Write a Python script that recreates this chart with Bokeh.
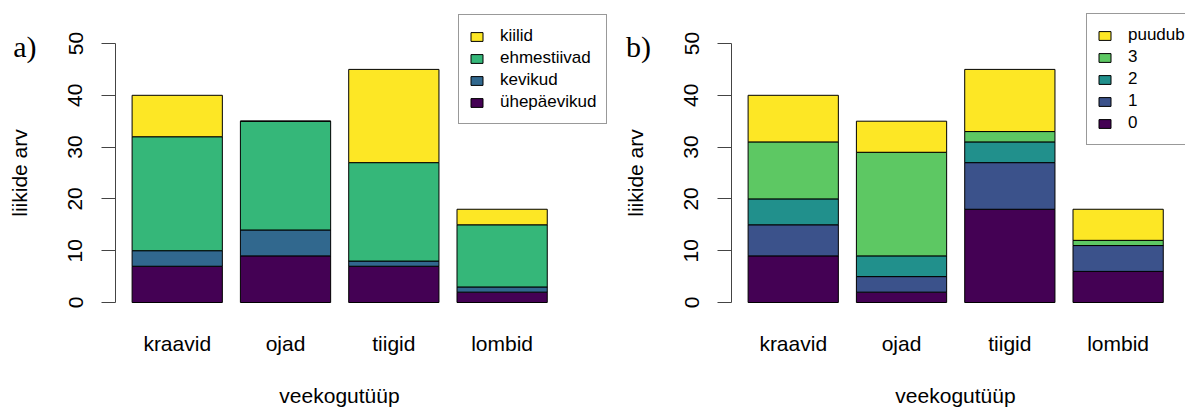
from bokeh.plotting import figure
from bokeh.models import Range1d, FixedTicker, Legend, LegendItem, Label, ColumnDataSource
from bokeh.layouts import row
from bokeh.embed import file_html
from bokeh.resources import INLINE

# water body types
categories = ["kraavid", "ojad", "tiigid", "lombid"]

# panel a: species count by insect group
a_names = ["ühepäevikud", "kevikud", "ehmestiivad", "kiilid"]
yhepaevikud = [7, 9, 7, 2]
kevikud = [3, 5, 1, 1]
ehmestiivad = [22, 21, 19, 12]
kiilid = [8, 0, 18, 3]

# panel b: species count by class
b_names = ["0", "1", "2", "3", "puudub"]
klass0 = [9, 2, 18, 6]
klass1 = [6, 3, 9, 5]
klass2 = [5, 4, 4, 0]
klass3 = [11, 20, 2, 1]
puudub = [9, 6, 12, 6]

y_ticks = [0, 10, 20, 30, 40, 50]

viridis4 = ["#440154", "#31688E", "#35B779", "#FDE725"]
viridis5 = ["#440154", "#3B528B", "#21908C", "#5DC863", "#FDE725"]

SANS = "Liberation Sans"

# layout scales (pixels per bar slot / per count unit)
SLOT_PX = 108.3
UNIT_PX = 5.18
AXIS_PX = 115          # y axis position inside each panel
ZERO_PX = 302          # vertical position of the zero line
PLOT_LEFT = -0.57      # plotting region, in slot / count units
PLOT_RIGHT = 3.57
PLOT_BOTTOM = -2.0
HEIGHT = 408


def make_panel(tag, tag_x, names, series, colors, width, legend_xy):
    xs = list(range(len(categories)))
    data = {"x": xs}
    keys = []
    for i, vals in enumerate(series):
        k = "s%d" % i
        data[k] = vals
        keys.append(k)
    src = ColumnDataSource(data)

    x0 = PLOT_LEFT - AXIS_PX / SLOT_PX
    x1 = PLOT_LEFT + (width - AXIS_PX) / SLOT_PX
    y0 = -(HEIGHT - ZERO_PX) / UNIT_PX
    y1 = y0 + HEIGHT / UNIT_PX

    p = figure(
        width=width, height=HEIGHT,
        x_range=Range1d(x0, x1), y_range=Range1d(y0, y1),
        output_backend="svg", toolbar_location=None,
        min_border_left=0, min_border_right=0,
        min_border_top=0, min_border_bottom=0,
        background_fill_color="white", border_fill_color="white",
    )
    p.outline_line_color = None
    p.grid.grid_line_color = None

    rs = p.vbar_stack(keys, x="x", width=1 / 1.2, source=src,
                      fill_color=colors, line_color="black", line_width=1)

    # y axis in base-graphics style: bounded, outward ticks, labels along the axis
    ya = p.yaxis[0]
    ya.fixed_location = PLOT_LEFT
    ya.ticker = FixedTicker(ticks=y_ticks)
    ya.bounds = (0, 50)
    ya.axis_line_color = "#444444"
    ya.major_tick_line_color = "#444444"
    ya.major_tick_out = 14
    ya.major_tick_in = 0
    ya.minor_tick_line_color = None
    ya.major_label_orientation = "parallel"
    ya.major_label_text_font = SANS
    ya.major_label_text_font_size = "21px"
    ya.major_label_text_color = "black"
    ya.major_label_standoff = 19
    ya.axis_label = "liikide arv"
    ya.axis_label_text_font = SANS
    ya.axis_label_text_font_size = "21px"
    ya.axis_label_text_font_style = "normal"
    ya.axis_label_text_color = "black"
    ya.axis_label_standoff = 35

    # category names under the bars, no axis line or ticks
    xa = p.xaxis[0]
    xa.fixed_location = PLOT_BOTTOM
    xa.ticker = FixedTicker(ticks=xs)
    xa.bounds = (PLOT_LEFT, PLOT_RIGHT)
    xa.major_label_overrides = {i: c for i, c in zip(xs, categories)}
    xa.axis_line_color = None
    xa.major_tick_line_color = None
    xa.minor_tick_line_color = None
    xa.major_tick_out = 0
    xa.major_tick_in = 0
    xa.major_label_text_font = SANS
    xa.major_label_text_font_size = "21px"
    xa.major_label_text_color = "black"
    xa.major_label_standoff = 19
    xa.axis_label = "veekogutüüp"
    xa.axis_label_text_font = SANS
    xa.axis_label_text_font_size = "21px"
    xa.axis_label_text_font_style = "normal"
    xa.axis_label_text_color = "black"
    xa.axis_label_standoff = 26

    items = [LegendItem(label=n, renderers=[r]) for n, r in zip(names, rs)][::-1]
    leg = Legend(items=items, location=legend_xy, margin=0, padding=10, spacing=0,
                 glyph_width=15, glyph_height=11, label_height=22, label_standoff=16,
                 label_text_font=SANS, label_text_font_size="17px",
                 label_text_color="black",
                 border_line_color="#333333", border_line_width=1,
                 background_fill_color="white", background_fill_alpha=1.0)
    p.add_layout(leg, "center")

    p.add_layout(Label(x=tag_x, y=HEIGHT - 45.7, x_units="screen", y_units="screen", text=tag,
                       text_font="Liberation Serif", text_font_size="30px",
                       text_color="black", text_baseline="alphabetic", text_align="left"))
    return p


pa = make_panel("a)", 12.7, a_names, [yhepaevikud, kevikud, ehmestiivad, kiilid],
                viridis4, 616, (458, HEIGHT - 124))
pb = make_panel("b)", 9.5, b_names, [klass0, klass1, klass2, klass3, puudub],
                viridis5, 569, (470, HEIGHT - 145))

layout = row(pa, pb)
open("out.html", "w").write(file_html(layout, INLINE))
